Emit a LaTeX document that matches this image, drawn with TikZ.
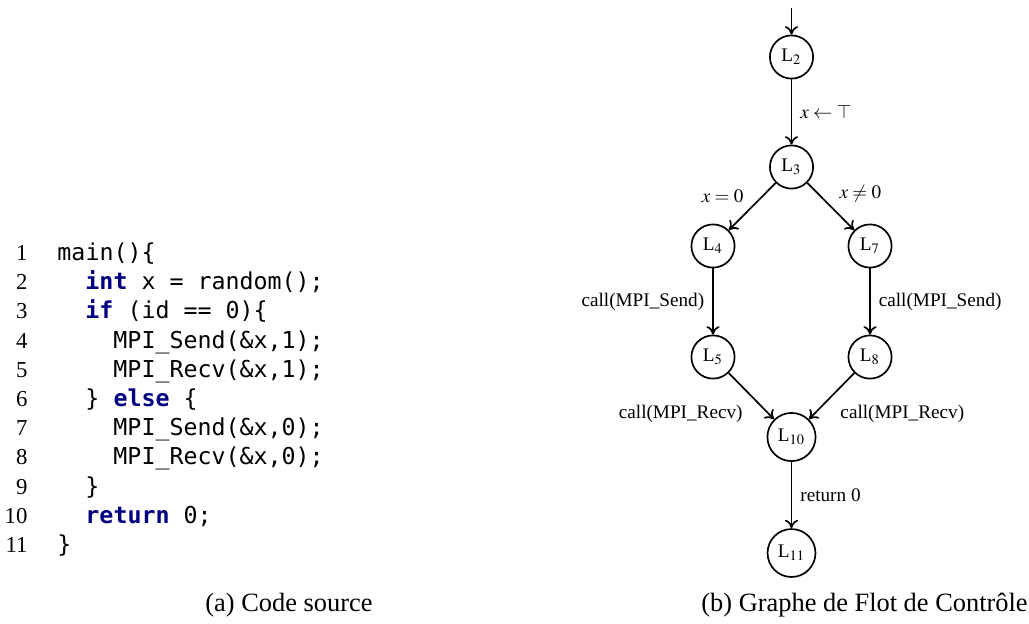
\documentclass[tikz,border=0pt]{standalone}
\usepackage{mathptmx}
\usepackage{fontspec}
\setmainfont{Liberation Serif}
\setmonofont{DejaVu Sans Mono}
\newfontfamily\capfont{Liberation Serif}
\usetikzlibrary{arrows.meta}
\definecolor{kwblue}{RGB}{0,0,128}
\newcommand{\kw}[1]{\textcolor{kwblue}{\bfseries #1}}

\begin{document}
\begin{tikzpicture}[x=0.4167pt,y=-0.4167pt,
    state/.style={circle,draw,line width=0.7pt,inner sep=2.5pt,minimum size=18pt,
      font=\rmfamily\fontsize{8}{9.6}\selectfont},
    lbl/.style={font=\rmfamily\fontsize{8}{9.6}\selectfont},
    codeline/.style={anchor=mid west,inner sep=0pt,font=\ttfamily\fontsize{9.7}{11.6}\selectfont},
    lineno/.style={anchor=mid east,inner sep=0pt,font=\rmfamily\fontsize{9.5}{11.4}\selectfont},
    captext/.style={anchor=mid,font=\capfont\fontsize{11}{13.2}\selectfont}]
  \useasboundingbox (0,0) rectangle (1029,623);

  % code source
  \node[lineno] (n1) at (28,255) {1};
  \node[lineno] (n2) at (28,284.2) {2};
  \node[lineno] (n3) at (28,313.4) {3};
  \node[lineno] (n4) at (28,342.6) {4};
  \node[lineno] (n5) at (28,371.8) {5};
  \node[lineno] (n6) at (28,401) {6};
  \node[lineno] (n7) at (28,430.2) {7};
  \node[lineno] (n8) at (28,459.4) {8};
  \node[lineno] (n9) at (28,488.6) {9};
  \node[lineno] (n10) at (28,517.8) {10};
  \node[lineno] (n11) at (28,547) {11};
  \node[codeline] (c1) at (57,255) {main()\{};
  \node[codeline] (c2) at (85,284.2) {\kw{int} x = random();};
  \node[codeline] (c3) at (85,313.4) {\kw{if} (id == 0)\{};
  \node[codeline] (c4) at (113,342.6) {MPI\_Send(\&x,1);};
  \node[codeline] (c5) at (113,371.8) {MPI\_Recv(\&x,1);};
  \node[codeline] (c6) at (85,401) {\} \kw{else} \{};
  \node[codeline] (c7) at (113,430.2) {MPI\_Send(\&x,0);};
  \node[codeline] (c8) at (113,459.4) {MPI\_Recv(\&x,0);};
  \node[codeline] (c9) at (85,488.6) {\}};
  \node[codeline] (c10) at (85,517.8) {\kw{return} 0;};
  \node[codeline] (c11) at (57,547) {\}};
  \node[captext] (capa) at (289,606) {(a) Code source};

  % graphe de flot de controle
  \coordinate (start) at (791.5,8);
  \node[state] (L2) at (791.5,57) {L$_2$};
  \node[state] (L3) at (791.5,167) {L$_3$};
  \node[state] (L4) at (713,246) {L$_4$};
  \node[state] (L7) at (870,246) {L$_7$};
  \node[state] (L5) at (713,357) {L$_5$};
  \node[state] (L8) at (870,357) {L$_8$};
  \node[state] (L10) at (791.5,437) {L$_{10}$};
  \node[state] (L11) at (791.5,553) {L$_{11}$};
  \node[captext] (capb) at (864.5,606) {(b) Graphe de Flot de Contrôle};

  \begin{scope}[-{To[length=3.5pt,width=5.5pt]},line width=0.7pt]
    \draw (start) to (L2);
    \draw (L2) to node[lbl,right] {$x \leftarrow \top$} (L3);
    \draw (L3) to node[lbl,above left,yshift=-2pt] {$x = 0$} (L4);
    \draw (L3) to node[lbl,above right,yshift=-2pt] {$x \neq 0$} (L7);
    \draw (L4) to node[lbl,left] {call(MPI\_Send)} (L5);
    \draw (L7) to node[lbl,right] {call(MPI\_Send)} (L8);
    \draw (L5) to node[lbl,below left] {call(MPI\_Recv)} (L10);
    \draw (L8) to node[lbl,below right] {call(MPI\_Recv)} (L10);
    \draw (L10) to node[lbl,right] {return 0} (L11);
  \end{scope}
\end{tikzpicture}
\end{document}
